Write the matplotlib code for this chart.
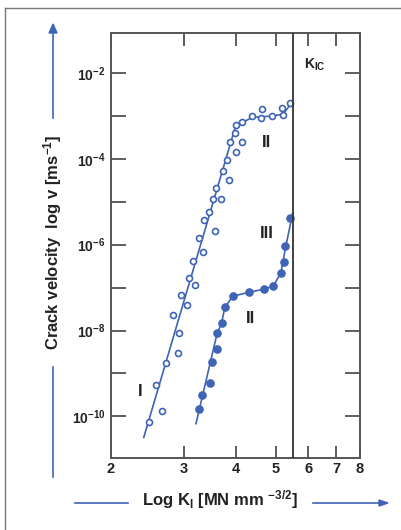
import matplotlib.pyplot as plt
import numpy as np
from matplotlib.ticker import FixedLocator, FuncFormatter, NullLocator
from matplotlib.lines import Line2D

# stress intensity K_I (MN mm^-3/2) and log10 of crack velocity v (m/s)
open_K = [2.47, 2.66, 2.57, 2.72, 2.91, 2.92, 2.82, 2.96, 3.05, 3.09, 3.20,
          3.16, 3.33, 3.27, 3.57, 3.36, 3.46, 3.53, 3.69, 3.58, 3.73, 3.85,
          3.81, 4.00, 3.89, 4.14, 3.99, 4.01, 4.15, 4.39, 4.63, 4.62, 4.91,
          5.17, 5.22, 5.43]
open_logv = [-10.13, -9.87, -9.26, -8.76, -8.52, -8.06, -7.65, -7.17, -7.40,
             -6.77, -6.95, -6.38, -6.18, -5.85, -5.68, -5.43, -5.24, -4.94,
             -4.94, -4.68, -4.28, -4.50, -4.02, -3.83, -3.60, -3.61, -3.41,
             -3.22, -3.15, -3.01, -2.83, -3.06, -3.00, -2.81, -2.98, -2.69]
open_fit_K = [2.40, 4.01, 4.18, 4.41, 4.66, 4.93, 5.21, 5.47]
open_fit_logv = [-10.49, -3.21, -3.14, -3.03, -3.02, -3.00, -2.96, -2.70]

filled_K = [3.26, 3.32, 3.47, 3.51, 3.61, 3.60, 3.70, 3.77, 3.94, 4.32, 4.68,
            4.94, 5.14, 5.24, 5.26, 5.41]
filled_logv = [-9.83, -9.51, -9.23, -8.74, -8.42, -8.06, -7.83, -7.46, -7.19,
               -7.10, -7.04, -6.97, -6.66, -6.40, -6.02, -5.39]
filled_fit_K = [3.21, 3.61, 3.70, 3.77, 3.94, 4.31, 4.66, 4.93, 5.15, 5.27, 5.50]
filled_fit_logv = [-10.17, -8.07, -7.83, -7.46, -7.20, -7.11, -7.04, -6.97,
                   -6.66, -6.13, -5.26]

K_IC = 5.5
x_ticks = [2, 3, 4, 5, 6, 7, 8]
y_decades = [-10, -9, -8, -7, -6, -5, -4, -3, -2]

plt.rcParams['font.family'] = ['Liberation Sans', 'DejaVu Sans']
plt.rcParams['font.weight'] = 'bold'
plt.rcParams['mathtext.fontset'] = 'custom'
plt.rcParams['mathtext.rm'] = 'Liberation Sans:bold'
plt.rcParams['mathtext.it'] = 'Liberation Sans:bold'
plt.rcParams['mathtext.bf'] = 'Liberation Sans:bold'

blue = '#3f63b5'
dark = '#333333'

fig = plt.figure(figsize=(4.01, 5.30), dpi=100)
ax = fig.add_axes([0.2768, 0.1358, 0.621, 0.8019])

ax.plot(open_fit_K, 10.0 ** np.array(open_fit_logv), color=blue, lw=1.2, zorder=2)
ax.plot(open_K, 10.0 ** np.array(open_logv), 'o', mfc='white', mec=blue,
        mew=1.2, ms=4.3, zorder=3)
ax.plot(filled_fit_K, 10.0 ** np.array(filled_fit_logv), color=blue, lw=1.2, zorder=2)
ax.plot(filled_K, 10.0 ** np.array(filled_logv), 'o', color=blue, ms=5.2, zorder=3)

ax.axvline(K_IC, color=dark, lw=1.3, zorder=4)

ax.set_xscale('log')
ax.set_yscale('log')
ax.set_xlim(2, 8)
ax.set_ylim(10 ** -10.97, 10 ** -1.07)

ax.xaxis.set_major_locator(FixedLocator(x_ticks))
ax.xaxis.set_minor_locator(NullLocator())
ax.xaxis.set_major_formatter(FuncFormatter(lambda v, p: f'{v:g}'))
ax.yaxis.set_major_locator(FixedLocator([10.0 ** d for d in y_decades]))
ax.yaxis.set_minor_locator(NullLocator())
ax.yaxis.set_major_formatter(FuncFormatter(
    lambda v, p: f'$10^{{{int(round(np.log10(v)))}}}$' if int(round(np.log10(v))) % 2 == 0 else ''))

ax.tick_params(axis='x', direction='in', length=9, width=1.1, color=dark,
               top=True, labelsize=10.5, pad=3, labelcolor='#222222')
ax.tick_params(axis='y', direction='in', length=11, width=1.1, color=dark,
               right=True, labelsize=10, pad=4, labelcolor='#222222')
for s in ax.spines.values():
    s.set_color('#555555')
    s.set_linewidth(1.4)

txt = dict(fontsize=12, color='#222222', fontweight='bold')
ax.text(2.35, 10 ** -9.43, 'I', ha='center', va='center', **txt)
ax.text(4.76, 10 ** -3.62, 'II', ha='center', va='center', **txt)
ax.text(4.76, 10 ** -5.74, 'III', ha='center', va='center', **txt)
ax.text(4.34, 10 ** -7.72, 'II', ha='center', va='center', **txt)
ax.text(5.85, 10 ** -1.81, r'K$_{\rm IC}$', ha='left', va='center',
        fontsize=10, color='#222222')

# axis titles with blue arrows
fig.text(53 / 401, 1 - 242 / 530, r'Crack velocity  log v [ms$^{-1}$]',
         rotation=90, ha='center', va='center', fontsize=12, color='#222222')
fig.add_artist(Line2D([53 / 401, 53 / 401], [1 - 477 / 530, 1 - 367 / 530],
                      color=blue, lw=1.2))
fig.add_artist(Line2D([53 / 401, 53 / 401], [1 - 118 / 530, 1 - 32 / 530],
                      color=blue, lw=1.2))
fig.patches.append(plt.Polygon([[49 / 401, 1 - 33 / 530], [57 / 401, 1 - 33 / 530],
                                [53 / 401, 1 - 24 / 530]], closed=True,
                               color=blue, transform=fig.transFigure, figure=fig))

fig.text(220 / 401, 1 - 500 / 530, r'Log K$_{\rm I}$ [MN mm $^{-3/2}$]',
         ha='center', va='center', fontsize=12, color='#222222')
fig.add_artist(Line2D([75 / 401, 128 / 401], [1 - 503 / 530, 1 - 503 / 530],
                      color=blue, lw=1.2))
fig.add_artist(Line2D([313 / 401, 380 / 401], [1 - 503 / 530, 1 - 503 / 530],
                      color=blue, lw=1.2))
fig.patches.append(plt.Polygon([[379 / 401, 1 - 500 / 530], [379 / 401, 1 - 506 / 530],
                                [388 / 401, 1 - 503 / 530]], closed=True,
                               color=blue, transform=fig.transFigure, figure=fig))

# outer frame (left and top edges visible)
fig.add_artist(Line2D([5 / 401, 5 / 401], [0, 1 - 8 / 530], color='#777777', lw=1.0))
fig.add_artist(Line2D([5 / 401, 1], [1 - 8 / 530, 1 - 8 / 530], color='#777777', lw=1.0))

fig.savefig('out.png', dpi=100)
